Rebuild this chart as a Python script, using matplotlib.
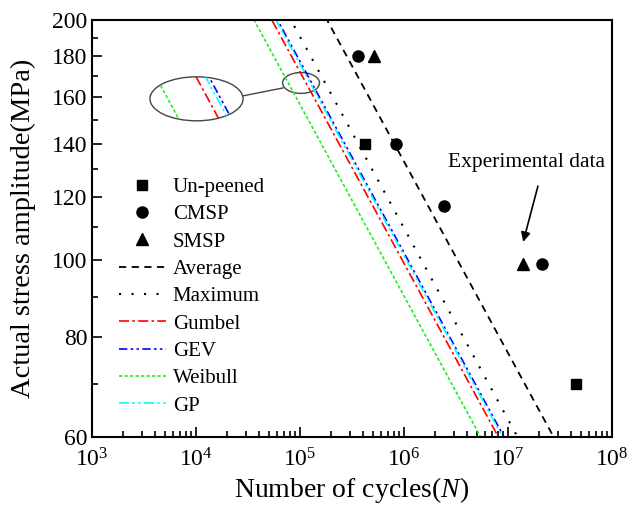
import numpy as np
import matplotlib
matplotlib.use("Agg")
import matplotlib.pyplot as plt
from matplotlib.patches import Ellipse
from matplotlib.ticker import NullFormatter, LogLocator

plt.rcParams["font.family"] = "Liberation Serif"
plt.rcParams["mathtext.fontset"] = "custom"
plt.rcParams["mathtext.rm"] = "Liberation Serif"
plt.rcParams["mathtext.it"] = "Liberation Serif:italic"

# experimental fatigue data (cycles, stress amplitude in MPa)
unpeened_n = [4.2e5, 4.5e7]
unpeened_s = [140, 70]
cmsp_n = [3.6e5, 8.3e5, 2.4e6, 2.1e7]
cmsp_s = [180, 140, 117, 99]
smsp_n = [5.1e5, 1.4e7]
smsp_s = [180, 99]

# Basquin fits S = sf * N^b for each prediction
fit_names = ["Average", "Maximum", "Gumbel", "GEV", "Weibull", "GP"]
fit_sf = [3660, 3021, 2729, 2813, 2483, 2790]
fit_b = [-0.24, -0.24, -0.24, -0.24, -0.24, -0.24]

fit_styles = {
    "Average": dict(color="black", ls=(0, (4, 3)), lw=1.3),
    "Maximum": dict(color="black", ls=(0, (1, 5)), lw=1.5),
    "Gumbel": dict(color="red", ls=(0, (6, 2, 1.5, 2)), lw=1.2),
    "GEV": dict(color="blue", ls=(0, (5, 2, 1.5, 2, 1.5, 2)), lw=1.2),
    "Weibull": dict(color="#22ee22", ls=(0, (2, 1.3)), lw=1.2),
    "GP": dict(color="cyan", ls=(0, (6, 2, 1.5, 2, 1.5, 2)), lw=1.2),
}

s_grid = np.geomspace(55, 210, 200)

fig = plt.figure(figsize=(6.32, 5.23), dpi=100)
ax = fig.add_axes([92 / 632, 1 - 437 / 523, 520 / 632, 417 / 523])

ax.plot(unpeened_n, unpeened_s, "s", color="black", ms=7, ls="none", label="Un-peened")
ax.plot(cmsp_n, cmsp_s, "o", color="black", ms=8, ls="none", label="CMSP")
ax.plot(smsp_n, smsp_s, "^", color="black", ms=8.5, ls="none", label="SMSP")

for name, sf, b in zip(fit_names, fit_sf, fit_b):
    n_grid = (s_grid / sf) ** (1 / b)
    ax.plot(n_grid, s_grid, label=name, **fit_styles[name])

ax.set_xscale("log")
ax.set_yscale("log")
ax.set_xlim(1e3, 1e8)
ax.set_ylim(60, 200)

yt = [60, 80, 100, 120, 140, 160, 180, 200]
ax.set_yticks(yt)
ax.set_yticklabels([str(v) for v in yt])
ax.set_yticks([70, 90, 110, 130, 150, 170, 190], minor=True)
ax.yaxis.set_minor_formatter(NullFormatter())
ax.xaxis.set_major_locator(LogLocator(base=10, numticks=10))
ax.xaxis.set_minor_locator(LogLocator(base=10, subs=np.arange(2, 10), numticks=20))
ax.xaxis.set_minor_formatter(NullFormatter())

ax.tick_params(which="both", direction="in", top=False, right=False, labelsize=17, width=1.2)
ax.tick_params(which="major", length=7)
ax.tick_params(which="minor", length=4)
ax.tick_params(axis="x", pad=8)
for sp in ax.spines.values():
    sp.set_linewidth(1.5)

ax.set_xlabel("Number of cycles($\\mathit{N}$)", fontsize=20)
ax.set_ylabel("Actual stress amplitude(MPa)", fontsize=20.5)
ax.yaxis.set_label_coords(-0.108, 0.5)
ax.xaxis.set_label_coords(0.5, -0.09)

ax.legend(loc="upper left", bbox_to_anchor=(0.031, 0.647), frameon=False,
          fontsize=15, handlelength=2.3, handletextpad=0.3,
          labelspacing=0.37, borderpad=0)

# experimental data callout
ax.annotate("", xy=(smsp_n[1], 105.4), xytext=(1.94e7, 123.8),
            arrowprops=dict(arrowstyle="-|>", color="black", lw=1.2,
                            mutation_scale=14, shrinkA=0, shrinkB=0))
ax.text(0.835, 0.635, "Experimental data", transform=ax.transAxes,
        ha="center", va="bottom", fontsize=15.5)

# zoom marker around crossing of the distribution fits
small = Ellipse((0.402, 0.849), 0.071, 0.050, transform=ax.transAxes,
                fill=False, ec="#444444", lw=1.0)
big = Ellipse((0.201, 0.811), 0.179, 0.1055, transform=ax.transAxes,
              fill=False, ec="#444444", lw=1.0, zorder=5)
ax.add_patch(small)
ax.add_patch(big)
ax.plot([0.290, 0.367], [0.818, 0.837], color="#444444", lw=1.0,
        transform=ax.transAxes)

axin = ax.inset_axes([0.201 - 0.0895, 0.811 - 0.05275, 0.179, 0.1055])
axin.set_xscale("log")
axin.set_yscale("log")
cx, cy = 10 ** 5.0096, 10 ** 2.222
hx, hy = 0.317 / 1.6, 0.0194 / 1.6
clip = Ellipse((0.5, 0.5), 1, 1, transform=axin.transAxes)
for name, sf, b in zip(fit_names, fit_sf, fit_b):
    if name in ("Average", "Maximum"):
        continue
    n_grid = (s_grid / sf) ** (1 / b)
    ln, = axin.plot(n_grid, s_grid, **fit_styles[name])
    ln.set_clip_path(clip)
axin.set_xlim(cx * 10 ** -hx, cx * 10 ** hx)
axin.set_ylim(cy * 10 ** -hy, cy * 10 ** hy)
axin.axis("off")

fig.savefig("out.png", dpi=100)
